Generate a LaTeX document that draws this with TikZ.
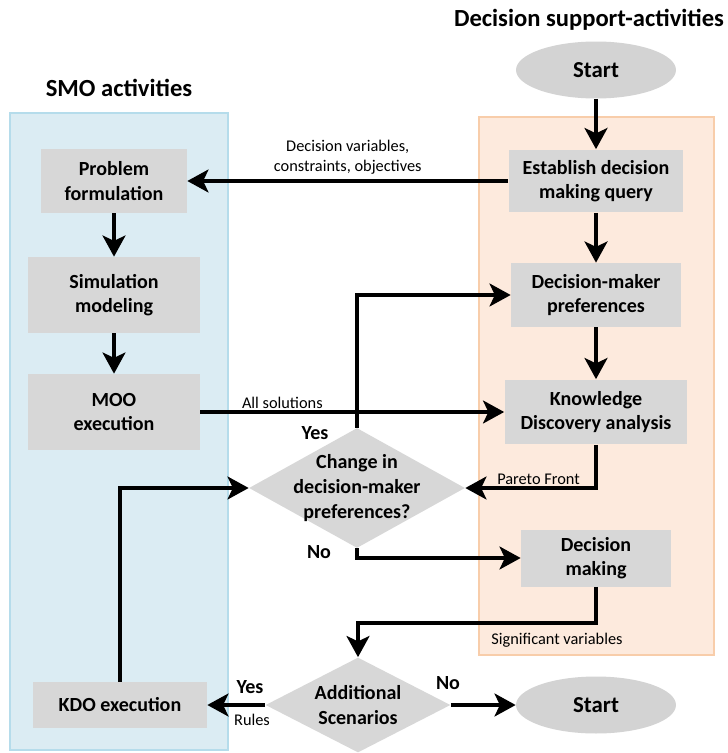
\documentclass[tikz,border=0pt]{standalone}
\usepackage{fontspec}
\setmainfont{Carlito}
\usetikzlibrary{shapes.geometric,arrows.meta}
\definecolor{boxgray}{HTML}{D7D7D7}
\definecolor{ovalgray}{HTML}{D3D3D3}
\definecolor{bluebg}{HTML}{DBECF3}
\definecolor{bluebd}{HTML}{B5DCEB}
\definecolor{orangebg}{HTML}{FDEADD}
\definecolor{orangebd}{HTML}{F8CDAA}
\begin{document}
\begin{tikzpicture}[x=0.02cm,y=-0.02cm,
  box/.style={fill=boxgray,font=\bfseries\fontsize{11.4}{14}\selectfont,align=center,inner sep=0pt},
  oval/.style={ellipse,fill=ovalgray,minimum width=3.2cm,minimum height=1.14cm,inner sep=0pt,font=\bfseries\fontsize{13}{15}\selectfont},
  dia/.style={diamond,fill=boxgray,inner sep=0pt},
  dtext/.style={font=\bfseries\fontsize{11.4}{14}\selectfont,align=center},
  flow/.style={line width=2.1pt,-{Stealth[length=12pt,width=13pt,inset=3pt]}},
  lbl/.style={font=\fontsize{9.3}{11}\selectfont,align=center,inner sep=1pt},
  yn/.style={font=\bfseries\fontsize{11.4}{14}\selectfont,inner sep=0pt},
  head/.style={font=\bfseries\fontsize{14}{16}\selectfont}]
\useasboundingbox (0,0) rectangle (727,753);
% the two swim lanes
\draw[draw=bluebd,fill=bluebg,line width=1.5pt] (10,113) rectangle (228,750);
\draw[draw=orangebd,fill=orangebg,line width=1.5pt] (479,117) rectangle (714,655);
\node[head] (smo) at (119,88) {SMO activities};
\node[head] (dsa) at (589,20) {Decision support-activities};

% SMO side
\node[box,minimum width=2.92cm,minimum height=1.28cm] (prob) at (114,181) {Problem\\formulation};
\node[box,minimum width=3.44cm,minimum height=1.52cm] (sim) at (114,295) {Simulation\\modeling};
\node[box,minimum width=3.44cm,minimum height=1.52cm] (moo) at (114,412) {MOO\\execution};
\node[box,minimum width=3.48cm,minimum height=0.92cm] (kdo) at (120,705) {KDO execution};

% decision support side
\node[oval] (start) at (596,70) {Start};
\node[box,minimum width=3.5cm,minimum height=1.26cm] (est) at (596,181) {Establish decision\\making query};
\node[box,minimum width=3.4cm,minimum height=1.28cm] (pref) at (596,295) {Decision-maker\\preferences};
\node[box,minimum width=3.66cm,minimum height=1.3cm] (kd) at (596,412) {Knowledge\\Discovery analysis};
\node[box,minimum width=3.0cm,minimum height=1.14cm] (dm) at (596,558) {Decision\\making};
\node[oval] (stop) at (596,705) {Start};

% decisions
\node[dia,minimum width=4.32cm,minimum height=2.4cm] (chg) at (357,488) {};
\node[dtext] (chgt) at (chg) {Change in\\decision-maker\\preferences?};
\node[dia,minimum width=3.7cm,minimum height=1.9cm] (add) at (358,705) {};
\node[dtext] (addt) at (add) {Additional\\Scenarios};

% connectors
\draw[flow] (start) -- (est);
\draw[flow] (est) -- (pref);
\draw[flow] (pref) -- (kd);
\draw[flow] (prob) -- (sim);
\draw[flow] (sim) -- (moo);
\draw[flow] (est.west) -- node[lbl,above,yshift=2pt] {Decision variables,\\constraints, objectives} (prob.east);
\draw[flow] (moo.east) -- node[lbl,above,pos=0.27] {All solutions} (kd.west);
\draw[flow] (chg.north) |- (pref.west);
\draw[flow] (kd.south) |- node[lbl,above,pos=0.72] {Pareto Front} (chg.east);
\draw[flow] (chg.south) |- (dm.west);
\coordinate (bend) at (596,623);
\draw[flow] (dm.south) -- (bend) -| (add.north);
\node[lbl] (sig) at (557,640) {Significant variables};
\draw[flow] (add.west) -- (kdo.east);
\draw[flow] (add.east) -- (stop.west);
\draw[flow] (kdo.north) |- (chg.west);
\node[yn] (yes1) at (315,433) {Yes};
\node[yn] (no1) at (319,552) {No};
\node[yn] (yes2) at (250,687) {Yes};
\node[lbl] (rules) at (252,720) {Rules};
\node[yn] (no2) at (448,683) {No};
\end{tikzpicture}
\end{document}
